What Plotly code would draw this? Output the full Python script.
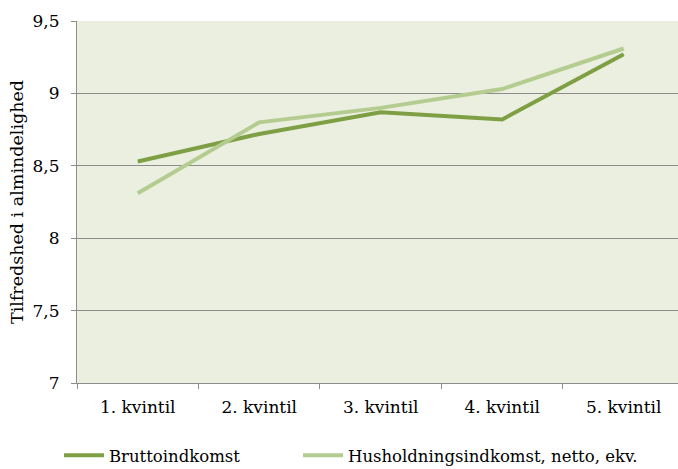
import plotly.graph_objects as go

categories = ["1. kvintil", "2. kvintil", "3. kvintil", "4. kvintil", "5. kvintil"]
brutto = [8.53, 8.72, 8.87, 8.82, 9.27]
husholdning = [8.31, 8.80, 8.90, 9.03, 9.31]
series_names = ["Bruttoindkomst", "Husholdningsindkomst, netto, ekv."]
y_tickvals = [7, 7.5, 8, 8.5, 9, 9.5]
y_ticktext = ["7", "7,5", "8", "8,5", "9", "9,5"]

FONT = "DejaVu Serif"

fig = go.Figure()
fig.add_trace(go.Scatter(x=categories, y=brutto, mode="lines", name=series_names[0],
                         line=dict(color="#7F9F45", width=4), legend="legend"))
fig.add_trace(go.Scatter(x=categories, y=husholdning, mode="lines", name=series_names[1],
                         line=dict(color="#B5CC91", width=4), legend="legend2"))

legend_common = dict(orientation="h", xanchor="left", y=-0.2, yanchor="middle",
                     font=dict(family=FONT, size=16.5), itemwidth=40,
                     bgcolor="rgba(0,0,0,0)")

fig.update_layout(
    width=678, height=469,
    margin=dict(l=77, r=0, t=21, b=86, autoexpand=False),
    paper_bgcolor="white",
    plot_bgcolor="#EBEFDF",
    font=dict(family=FONT, size=16, color="black"),
    showlegend=True,
    legend=dict(x=-0.03, **legend_common),
    legend2=dict(x=0.3677, **legend_common),
    xaxis=dict(
        type="category",
        range=[-0.5, 4.447],
        tickson="boundaries",
        ticks="outside", ticklen=5, tickcolor="#8C8C8C",
        showline=True, linecolor="#8C8C8C", linewidth=1,
        showgrid=False, zeroline=False, automargin=False,
        ticklabelstandoff=9,
        tickfont=dict(family=FONT, size=17),
    ),
    yaxis=dict(
        range=[7, 9.5],
        tickvals=y_tickvals, ticktext=y_ticktext,
        ticks="outside", ticklen=5, tickcolor="#8C8C8C",
        showline=True, linecolor="#8C8C8C", linewidth=1,
        showgrid=True, gridcolor="#8C8C8C", gridwidth=1,
        zeroline=False, automargin=False,
        ticklabelstandoff=8,
        tickfont=dict(family=FONT, size=17),
        title=dict(text="Tilfredshed i almindelighed", font=dict(family=FONT, size=17.5), standoff=4),
    ),
)

fig.write_html("out.html", config={"displayModeBar": False},
               post_script="document.body.style.margin='0px';")
